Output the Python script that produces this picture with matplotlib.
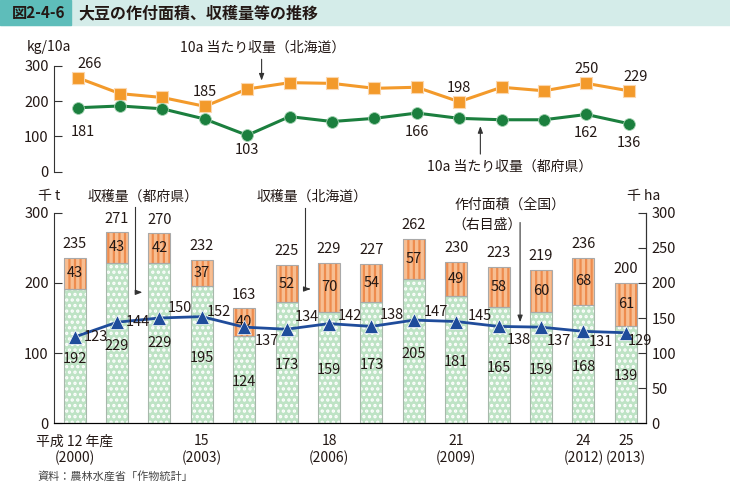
import matplotlib
matplotlib.use('Agg')
import matplotlib.pyplot as plt
from matplotlib.patches import Rectangle
import numpy as np

plt.rcParams['font.family'] = ['Noto Sans CJK JP', 'DejaVu Sans']
plt.rcParams['hatch.linewidth'] = 1.6

# data
years = list(range(2000, 2014))
yield_hokkaido = [266, 221, 210, 185, 234, 252, 250, 236, 239, 198, 239, 229, 250, 229]
yield_pref = [181, 186, 178, 149, 103, 156, 142, 151, 166, 151, 147, 147, 162, 136]
harvest_pref = [192, 229, 229, 195, 124, 173, 159, 173, 205, 181, 165, 159, 168, 139]
harvest_hokkaido = [43, 43, 42, 37, 40, 52, 70, 54, 57, 49, 58, 60, 68, 61]
harvest_total = [235, 271, 270, 232, 163, 225, 229, 227, 262, 230, 223, 219, 236, 200]
area_total = [123, 144, 150, 152, 137, 134, 142, 138, 147, 145, 138, 137, 131, 129]
tick_idx = [0, 3, 6, 9, 12, 13]
tick_labels = ['平成 12 年産\n(2000)', '15\n(2003)', '18\n(2006)', '21\n(2009)',
               '24\n(2012)', '25\n(2013)']
labeled_hk = [0, 3, 9, 12, 13]
labeled_pref = [0, 4, 8, 12, 13]

TXT = '#231815'
ORANGE = '#F39A2B'
GREEN = '#1B7F3E'
BLUE = '#1F4C9B'

fig = plt.figure(figsize=(7.3, 4.83), dpi=100)

# title bar
fig.patches.append(Rectangle((0, 1 - 25 / 483), 1, 25 / 483, transform=fig.transFigure,
                             color='#D4ECE9', zorder=0))
fig.patches.append(Rectangle((0, 1 - 25 / 483), 71 / 730, 25 / 483, transform=fig.transFigure,
                             color='#5EBDBA', zorder=1))
fig.text(12 / 730, 1 - 13 / 483, '図2-4-6', fontsize=11, fontweight='bold', color=TXT,
         va='center', ha='left')
fig.text(78 / 730, 1 - 13 / 483, '大豆の作付面積、収穫量等の推移', fontsize=11.5,
         fontweight='bold', color=TXT, va='center', ha='left')

x = np.arange(len(years))

# ---- top chart: yield per 10a
axt = fig.add_axes([54.3 / 730, 311.3 / 483, 591.4 / 730, 106 / 483])
axt.plot(x, yield_hokkaido, color=ORANGE, lw=2.2, marker='s', ms=9,
         mec='#FBD7AE', mew=0.8, clip_on=False)
axt.plot(x, yield_pref, color=GREEN, lw=2.2, marker='o', ms=8.5,
         mec='#9FD0AE', mew=0.6, clip_on=False)
axt.set_xlim(-0.55, 13.40)
axt.set_ylim(0, 300)
axt.set_yticks([0, 100, 200, 300])
for s in ['top', 'right', 'bottom']:
    axt.spines[s].set_visible(False)
axt.spines['left'].set_color('#333333')
axt.tick_params(axis='y', direction='in', length=6, labelsize=10.5, colors='#333333',
                labelcolor=TXT, pad=4)
axt.set_xticks([])
axt.patch.set_alpha(0)

hk_dx = {0: 12, 13: 7}
for i in labeled_hk:
    axt.annotate(str(yield_hokkaido[i]), (x[i], yield_hokkaido[i]),
                 xytext=(hk_dx.get(i, 0), 14), textcoords='offset pixels',
                 ha='center', va='center', fontsize=10.5, color=TXT)
for i in labeled_pref:
    dy = -22 if i == 0 else -17
    if i == 4:
        dy = -13
    axt.annotate(str(yield_pref[i]), (x[i], yield_pref[i]),
                 xytext=(5 if i == 0 else 0, dy - 2), textcoords='offset pixels',
                 ha='center', va='center', fontsize=10.5, color=TXT)

axt.text(4.36, 350, '10a 当たり収量（北海道）', ha='center', va='center', fontsize=10,
         color=TXT, clip_on=False)
axt.annotate('', xy=(4.34, 250), xytext=(4.34, 326),
             arrowprops=dict(arrowstyle='-|>,head_width=0.15,head_length=0.4',
                             color='#333333', lw=0.8), annotation_clip=False)
axt.text(10.2, 14, '10a 当たり収量（都府県）', ha='center', va='center', fontsize=10,
         color=TXT, clip_on=False)
axt.annotate('', xy=(9.5, 137), xytext=(9.5, 42),
             arrowprops=dict(arrowstyle='-|>,head_width=0.15,head_length=0.4',
                             color='#333333', lw=0.8), annotation_clip=False)
fig.text(26.7 / 730, 1 - 47.3 / 483, 'kg/10a', fontsize=10, color=TXT, ha='left', va='center')

# ---- bottom chart: harvest (bars) and area (line)
ax = fig.add_axes([54.3 / 730, 59.7 / 483, 591.4 / 730, 210.6 / 483])
w = 0.52
# prefecture bars (green dots)
ax.bar(x, harvest_pref, w, color='#BEE3C5', edgecolor='white', hatch='...', lw=0, zorder=2)
ax.bar(x, harvest_pref, w, fill=False, edgecolor='#A8B8AC', lw=0.8, zorder=3)
# hokkaido bars (orange stripes)
ax.bar(x, harvest_hokkaido, w, bottom=harvest_pref, color='#F7BE92', edgecolor='#EE8C4E',
       hatch='|||', lw=0, zorder=2)
ax.bar(x, harvest_hokkaido, w, bottom=harvest_pref, fill=False, edgecolor='#A9A9A9',
       lw=0.8, zorder=3)

ax.set_xlim(-0.48, 13.47)
ax.set_ylim(0, 300)
ax.set_yticks([0, 100, 200, 300])
ax.spines['top'].set_visible(False)
for s in ['left', 'bottom', 'right']:
    ax.spines[s].set_color('#333333')
ax.tick_params(axis='y', direction='in', length=6, labelsize=10.5, colors='#333333',
               labelcolor=TXT, pad=4)
ax.set_xticks(x[tick_idx])
ax.set_xticklabels(tick_labels, fontsize=10, color=TXT, linespacing=1.2)
ax.tick_params(axis='x', length=0, pad=8)

pref_lbl_frac = [0.48] * len(years)
pref_lbl_frac[2] = 0.5
for i in x:
    ax.text(i, harvest_total[i] + 10, str(harvest_total[i]), ha='center', va='bottom',
            fontsize=10.5, color=TXT, zorder=5)
    ax.text(i, harvest_pref[i] + harvest_hokkaido[i] / 2, str(harvest_hokkaido[i]),
            ha='center', va='center', fontsize=10.5, color=TXT, zorder=5)
    ax.text(i, harvest_pref[i] * pref_lbl_frac[i], str(harvest_pref[i]), ha='center',
            va='center', fontsize=10.5, color=TXT, zorder=5)

ax2 = ax.twinx()
ax2.plot(x, area_total, color=BLUE, lw=2, marker='^', ms=10, mec='white', mew=0.5, zorder=6)
ax2.set_ylim(0, 300)
ax2.set_yticks(range(0, 301, 50))
ax2.spines['top'].set_visible(False)
ax2.spines['right'].set_color('#333333')
ax2.spines['left'].set_visible(False)
ax2.tick_params(axis='y', direction='in', length=6, labelsize=10.5, colors='#333333',
                labelcolor=TXT, pad=4)
area_dy = [0, 0, 10, 5, -14, 12, 8, 11, 8, 6, -14, -14, -11, -8]
area_dx = [9, 9, 8, 5, 11, 8, 9, 8, 10, 12, 8, 6, 5, 2]
for i in x:
    ax2.annotate(str(area_total[i]), (x[i], area_total[i]),
                 xytext=(area_dx[i], area_dy[i]), textcoords='offset pixels',
                 ha='left', va='center', fontsize=10.5, color=TXT, zorder=7)

# annotations
arrow = dict(arrowstyle='-|>,head_width=0.15,head_length=0.4', color='#333333', lw=0.8)
ax.text(1.61, 323, '収穫量（都府県）', ha='center', va='center', fontsize=10, color=TXT,
        clip_on=False)
ax.plot([1.427, 1.427], [308, 186.6], color='#333333', lw=0.8, clip_on=False, zorder=4)
ax.annotate('', xy=(1.663, 186.6), xytext=(1.42, 186.6), arrowprops=arrow,
            annotation_clip=False)
ax.text(5.594, 323, '収穫量（北海道）', ha='center', va='center', fontsize=10, color=TXT,
        clip_on=False)
ax.plot([5.436, 5.436], [306.7, 191.3], color='#333333', lw=0.8, clip_on=False, zorder=4)
ax.annotate('', xy=(5.632, 191.3), xytext=(5.43, 191.3), arrowprops=arrow,
            annotation_clip=False)
ax.text(8.95, 311, '作付面積（全国）', ha='left', va='center', fontsize=10, color=TXT,
        clip_on=False)
ax.text(8.92, 283, '（右目盛）', ha='left', va='center', fontsize=10, color=TXT,
        clip_on=False)
ax.annotate('', xy=(10.507, 140), xytext=(10.507, 290), arrowprops=arrow,
            annotation_clip=False)

fig.text(38 / 730, 1 - 195.7 / 483, '千 t', fontsize=10, color=TXT, ha='left', va='center')
fig.text(626.7 / 730, 1 - 195.7 / 483, '千 ha', fontsize=10, color=TXT, ha='left', va='center')
fig.text(37 / 730, 1 - 476 / 483, '資料：農林水産省「作物統計」', fontsize=8, color='#444444',
         ha='left', va='center')

fig.savefig('out.png', dpi=100)
